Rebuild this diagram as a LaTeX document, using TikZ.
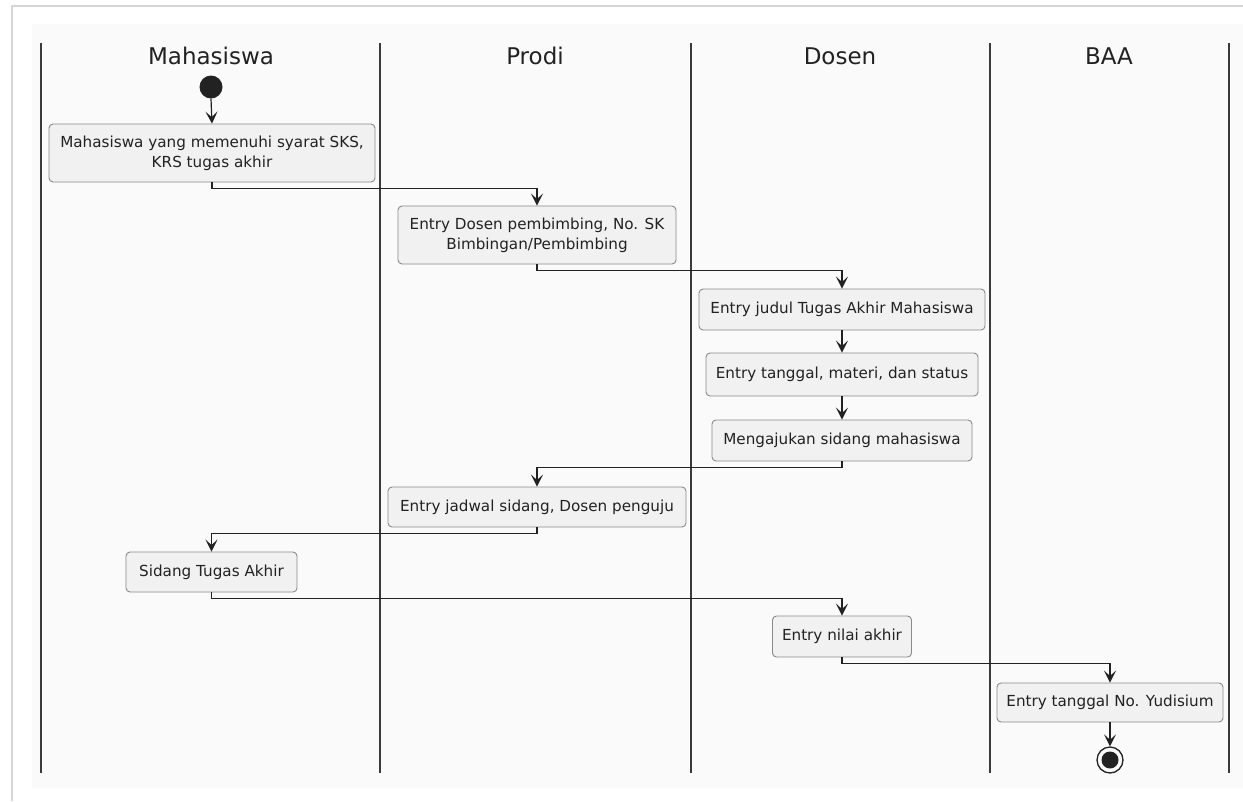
\documentclass[tikz,border=0pt]{standalone}
\usepackage{fontspec}
\setmainfont{DejaVu Sans}
\usetikzlibrary{arrows.meta}
\definecolor{bgpanel}{HTML}{FAFAFA}
\definecolor{frame}{HTML}{D6D6D6}
\definecolor{boxfill}{HTML}{F1F1F1}
\definecolor{boxline}{HTML}{8A8A8A}
\definecolor{ink}{HTML}{222222}
\definecolor{lane}{HTML}{3A3A3A}
\tikzset{
  x=1pt, y=-1pt,
  act/.style={draw=boxline, fill=boxfill, rounded corners=4pt, line width=0.9pt,
    inner sep=0pt, align=center, text=ink,
    font=\fontsize{15.2}{20}\selectfont},
  lanehead/.style={text=ink, font=\fontsize{23}{26}\selectfont, inner sep=0pt},
  laneline/.style={draw=lane, line width=1.8pt},
  arr/.style={draw=ink, line width=1.2pt,
    -{Stealth[length=12pt,width=12pt,inset=5.5pt]}},
}
\begin{document}
\begin{tikzpicture}
\useasboundingbox (0,0) rectangle (1243,801);
\fill[white] (0,0) rectangle (1243,801);
\draw[frame, line width=1.5pt] (12,801) -- (12,6) -- (1243,6);
\fill[bgpanel] (32,24) rectangle (1243,788);
% lanes
\foreach \xx in {41,380,691,990,1229} \draw[laneline] (\xx,43) -- (\xx,773);
\node[lanehead] (h1) at (211,56) {Mahasiswa};
\node[lanehead] (h2) at (535,56) {Prodi};
\node[lanehead] (h3) at (840,56) {Dosen};
\node[lanehead] (h4) at (1109,56) {BAA};
% start / end
\node[circle, fill=ink, minimum size=23pt, inner sep=0pt] (start) at (211,87) {};
\node[circle, draw=ink, line width=1.3pt, fill=bgpanel, minimum size=26pt, inner sep=0pt] (stop) at (1110,760) {};
\node[circle, fill=ink, minimum size=17pt, inner sep=0pt] (stopin) at (1110,760) {};
% activities
\node[act, minimum width=326pt, minimum height=58pt] (b1) at (212,153)
  {Mahasiswa yang memenuhi syarat SKS,\\KRS tugas akhir};
\node[act, minimum width=278pt, minimum height=58pt] (b2) at (537,235)
  {Entry Dosen pembimbing, No. SK\\Bimbingan/Pembimbing};
\node[act, minimum width=286pt, minimum height=41pt] (b3) at (842,309.5)
  {Entry judul Tugas Akhir Mahasiswa};
\node[act, minimum width=272pt, minimum height=43pt] (b4) at (842,374.5)
  {Entry tanggal, materi, dan status};
\node[act, minimum width=260pt, minimum height=41pt] (b5) at (842,440.5)
  {Mengajukan sidang mahasiswa};
\node[act, minimum width=298pt, minimum height=40pt] (b6) at (537,507)
  {Entry jadwal sidang, Dosen penguju};
\node[act, minimum width=171pt, minimum height=40pt] (b7) at (211.5,572)
  {Sidang Tugas Akhir};
\node[act, minimum width=139pt, minimum height=41pt] (b8) at (842,636.5)
  {Entry nilai akhir};
\node[act, minimum width=226pt, minimum height=39pt] (b9) at (1110,702.5)
  {Entry tanggal No. Yudisium};
% connectors
\draw[arr] (start.south) -- (b1.north);
\draw[arr] (b1.south) -- ++(0,-6pt) -| (b2.north);
\draw[arr] (b2.south) -- ++(0,-6pt) -| (b3.north);
\draw[arr] (b3.south) -- (b4.north);
\draw[arr] (b4.south) -- (b5.north);
\draw[arr] (b5.south) -- ++(0,-6pt) -| (b6.north);
\draw[arr] (b6.south) -- ++(0,-6pt) -| (b7.north);
\draw[arr] (b7.south) -- ++(0,-6pt) -| (b8.north);
\draw[arr] (b8.south) -- ++(0,-6pt) -| (b9.north);
\draw[arr] (b9.south) -- (stop.north);
\end{tikzpicture}
\end{document}
